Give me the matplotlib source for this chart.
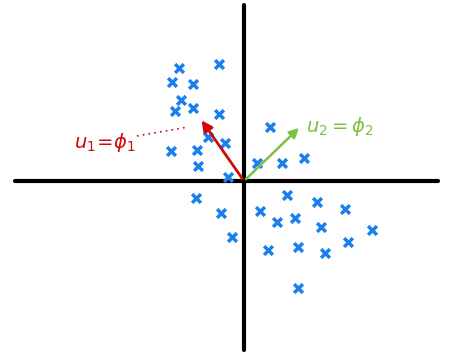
"""Hand-drawn style sketch of a point cloud with two principal directions."""
import matplotlib.pyplot as plt

# data coordinates: origin at the crossing of the axes, y upward
cloud_x = [-65, -72, -51, -25, -63, -69, -51, -25, -36, -19, -73, -47, -46, -16,
           -48, -23, -12, 43, 73, 101, 16, 33, 51, 77, 128, 24, 54, 81, 104, 54,
           26, 13, 38, 60]
cloud_y = [113, 99, 97, 117, 81, 70, 73, 67, 44, 38, 30, 31, 15, 4,
           -17, -32, -56, -14, -21, -28, -30, -41, -37, -46, -49, -69, -66, -72,
           -61, -107, 54, 18, 18, 23]

origin = (0, 0)
u1_tip = (-44, 63)
u2_tip = (57, 55)
u1_label = r"$u_1\!=\!\phi_1$"
u2_label = r"$u_2 = \phi_2$"

BLUE = "#1a80f0"
RED = "#cc0a0a"
GREEN = "#7cc142"

fig = plt.figure(figsize=(4.5, 3.55), dpi=100)
ax = fig.add_axes([0, 0, 1, 1])
ax.set_xlim(-244, 206)
ax.set_ylim(-174, 181)
ax.axis("off")

# axes of the sketch
ax.plot([-229, 194], [0, 0], color="black", lw=3, solid_capstyle="round", zorder=1)
ax.plot([0, 0], [-169, 176], color="black", lw=3, solid_capstyle="round", zorder=1)

# point cloud
ax.scatter(cloud_x, cloud_y, marker="x", s=40, color=BLUE, linewidths=2.5, zorder=2)

# principal directions
ax.annotate("", xy=u1_tip, xytext=origin,
            arrowprops=dict(arrowstyle="-|>", color=RED, lw=2, mutation_scale=16),
            zorder=3)
ax.annotate("", xy=u2_tip, xytext=origin,
            arrowprops=dict(arrowstyle="-|>", color=GREEN, lw=1.8, mutation_scale=14),
            zorder=3)

# dotted pointer from label to the red arrow
ax.plot([-107, -56], [45, 54], color=RED, lw=1.2, ls=(0, (1, 2.5)), zorder=3)

ax.text(-109, 39, u1_label, color=RED, fontsize=14, ha="right", va="center")
ax.text(62, 54, u2_label, color=GREEN, fontsize=14, ha="left", va="center")

fig.savefig("out.png", dpi=100)
